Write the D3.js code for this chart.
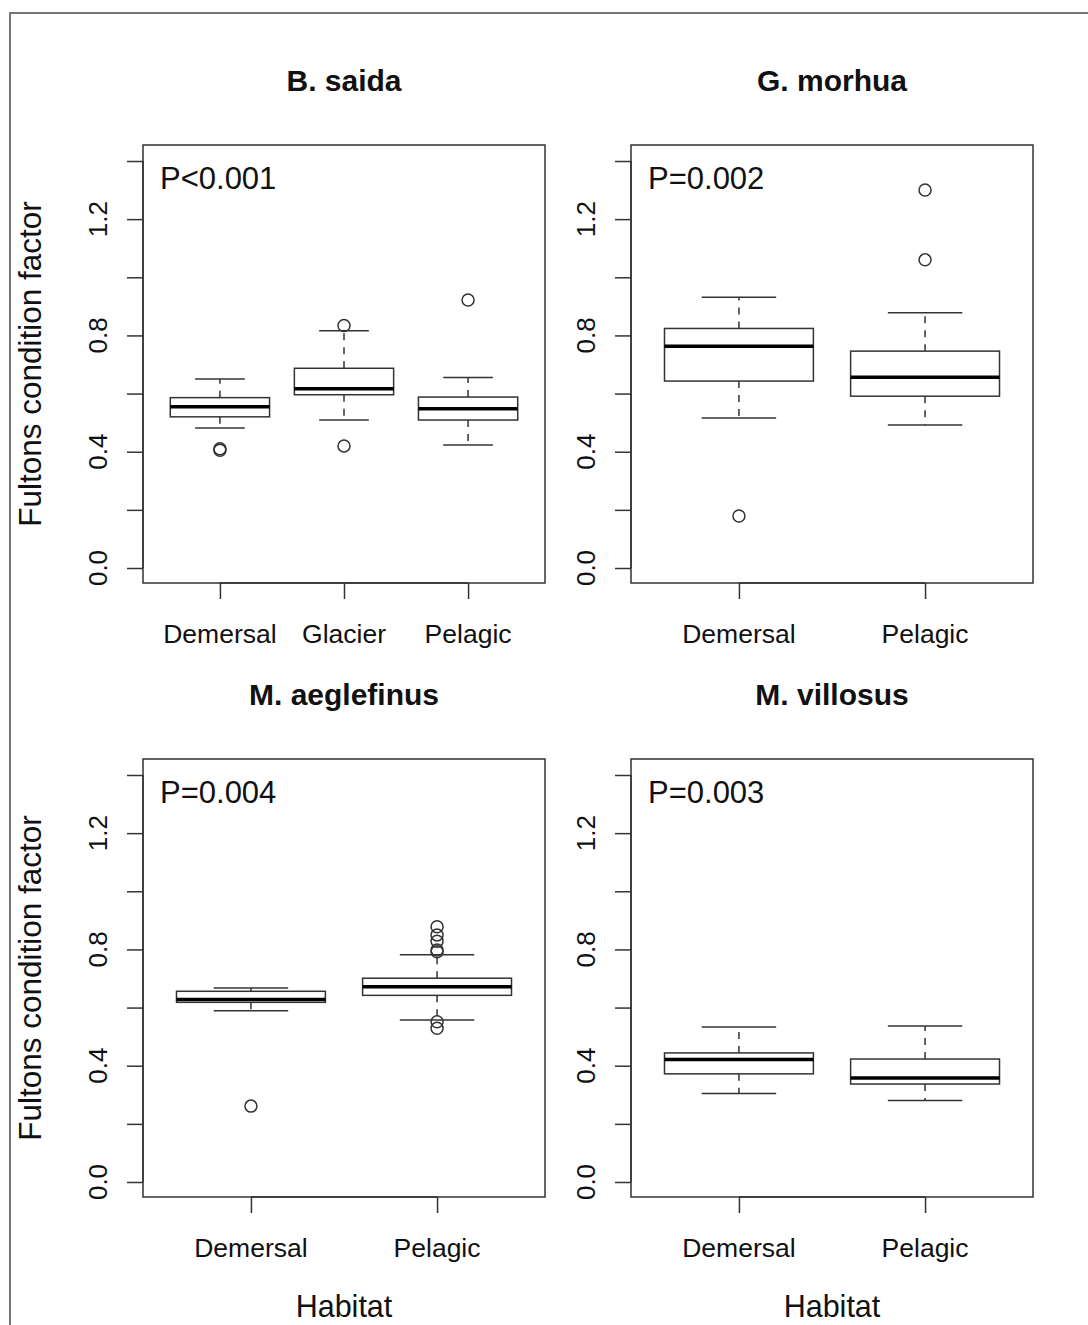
<!DOCTYPE html>
<html>
<head>
<meta charset="utf-8">
<script src="https://cdn.jsdelivr.net/npm/d3@7"></script>
<style>
  html, body { margin: 0; padding: 0; background: #fff; }
  svg { display: block; }
  text { font-family: "Liberation Sans", Arial, sans-serif; fill: #111; }
</style>
</head>
<body>
<script>
// ---------- DATA ----------
const speciesTitles = ["B. saida", "G. morhua", "M. aeglefinus", "M. villosus"];
const pValues = ["P<0.001", "P=0.002", "P=0.004", "P=0.003"];

const saidaCategories = ["Demersal", "Glacier", "Pelagic"];
const saidaLowWhisker = [0.482, 0.509, 0.423];
const saidaQ1 = [0.520, 0.596, 0.509];
const saidaMedian = [0.555, 0.617, 0.548];
const saidaQ3 = [0.586, 0.687, 0.588];
const saidaHighWhisker = [0.650, 0.816, 0.655];
const saidaOutliers = [[0.405, 0.410], [0.420, 0.834], [0.922]];

const morhuaCategories = ["Demersal", "Pelagic"];
const morhuaLowWhisker = [0.516, 0.492];
const morhuaQ1 = [0.643, 0.591];
const morhuaMedian = [0.763, 0.656];
const morhuaQ3 = [0.824, 0.746];
const morhuaHighWhisker = [0.931, 0.878];
const morhuaOutliers = [[0.179], [1.060, 1.300]];

const aeglefinusCategories = ["Demersal", "Pelagic"];
const aeglefinusLowWhisker = [0.589, 0.557];
const aeglefinusQ1 = [0.618, 0.642];
const aeglefinusMedian = [0.628, 0.672];
const aeglefinusQ3 = [0.656, 0.701];
const aeglefinusHighWhisker = [0.667, 0.782];
const aeglefinusOutliers = [[0.261], [0.878, 0.850, 0.828, 0.798, 0.792, 0.551, 0.529]];

const villosusCategories = ["Demersal", "Pelagic"];
const villosusLowWhisker = [0.304, 0.280];
const villosusQ1 = [0.372, 0.337];
const villosusMedian = [0.421, 0.358];
const villosusQ3 = [0.444, 0.423];
const villosusHighWhisker = [0.533, 0.537];
const villosusOutliers = [[], []];

const yTickValues = [0, 0.2, 0.4, 0.6, 0.8, 1.0, 1.2, 1.4];
const yTickLabelValues = [0, 0.4, 0.8, 1.2];
const xAxisTitle = "Habitat";
const yAxisTitle = "Fultons condition factor";

// ---------- BUILD ----------
function makeGroups(cats, lo, q1, med, q3, hi, out) {
  return cats.map((c, i) => ({ name: c, pos: i + 1, lo: lo[i], q1: q1[i], med: med[i], q3: q3[i], hi: hi[i], out: out[i] }));
}
const panels = [
  { title: speciesTitles[0], p: pValues[0], groups: makeGroups(saidaCategories, saidaLowWhisker, saidaQ1, saidaMedian, saidaQ3, saidaHighWhisker, saidaOutliers), col: 0, row: 0 },
  { title: speciesTitles[1], p: pValues[1], groups: makeGroups(morhuaCategories, morhuaLowWhisker, morhuaQ1, morhuaMedian, morhuaQ3, morhuaHighWhisker, morhuaOutliers), col: 1, row: 0 },
  { title: speciesTitles[2], p: pValues[2], groups: makeGroups(aeglefinusCategories, aeglefinusLowWhisker, aeglefinusQ1, aeglefinusMedian, aeglefinusQ3, aeglefinusHighWhisker, aeglefinusOutliers), col: 0, row: 1 },
  { title: speciesTitles[3], p: pValues[3], groups: makeGroups(villosusCategories, villosusLowWhisker, villosusQ1, villosusMedian, villosusQ3, villosusHighWhisker, villosusOutliers), col: 1, row: 1 }
];

const W = 1088, H = 1325;
const svg = d3.select("body").append("svg").attr("width", W).attr("height", H);

// outer frame (top + left visible)
svg.append("path").attr("d", `M10,${H} L10,13 L${W},13`)
  .attr("fill", "none").attr("stroke", "#777").attr("stroke-width", 2);

const lineCol = "#333";
const colX = [143, 631], rowY = [145, 759];
const boxW = 402, boxH = 438;

panels.forEach(pn => {
  const x0 = colX[pn.col], y0 = rowY[pn.row];
  const x1 = x0 + boxW, y1 = y0 + boxH;
  const n = pn.groups.length;
  const x = d3.scaleLinear().domain([0.5 - 0.04 * n, n + 0.5 + 0.04 * n]).range([x0, x1]);
  const y = d3.scaleLinear().domain([0, 1.4]).range([y0 + 423, y0 + 16]);
  const g = svg.append("g");

  // y axis
  const yAxis = d3.axisLeft(y).tickValues(yTickValues).tickSize(16).tickFormat("");
  const ya = g.append("g").attr("transform", `translate(${x0},0)`).call(yAxis);
  ya.select(".domain").attr("d", `M0,${y(0)}V${y(1.4)}`);
  ya.selectAll("line, path").attr("stroke", lineCol).attr("stroke-width", 1.5);
  g.selectAll(null).data(yTickLabelValues).enter().append("text")
    .attr("transform", d => `translate(${x0 - 36},${y(d)}) rotate(-90)`)
    .attr("text-anchor", "middle").attr("font-size", 26)
    .text(d => d3.format(".1f")(d));

  // x axis
  const xAxis = d3.axisBottom(x).tickValues(pn.groups.map(d => d.pos)).tickSize(16).tickFormat("");
  const xa = g.append("g").attr("transform", `translate(0,${y1})`).call(xAxis);
  xa.select(".domain").attr("d", `M${x(1)},0H${x(n)}`);
  xa.selectAll("line, path").attr("stroke", lineCol).attr("stroke-width", 1.5);
  g.selectAll(null).data(pn.groups).enter().append("text")
    .attr("x", d => x(d.pos)).attr("y", y1 + 60)
    .attr("text-anchor", "middle").attr("font-size", 26.5)
    .text(d => d.name);

  // plot frame
  g.append("rect").attr("x", x0).attr("y", y0).attr("width", boxW).attr("height", boxH)
    .attr("fill", "none").attr("stroke", lineCol).attr("stroke-width", 1.5);

  const bw = x(1.4) - x(1);   // half box width (0.4 units)
  const sw = x(1.2) - x(1);   // half staple width

  const bg = g.selectAll(null).data(pn.groups).enter().append("g");
  // whiskers (dashed)
  bg.append("line").attr("x1", d => x(d.pos)).attr("x2", d => x(d.pos))
    .attr("y1", d => y(d.q3)).attr("y2", d => y(d.hi))
    .attr("stroke", lineCol).attr("stroke-width", 1.5).attr("stroke-dasharray", "7,7");
  bg.append("line").attr("x1", d => x(d.pos)).attr("x2", d => x(d.pos))
    .attr("y1", d => y(d.q1)).attr("y2", d => y(d.lo))
    .attr("stroke", lineCol).attr("stroke-width", 1.5).attr("stroke-dasharray", "7,7");
  // staples
  bg.append("line").attr("x1", d => x(d.pos) - sw).attr("x2", d => x(d.pos) + sw)
    .attr("y1", d => y(d.hi)).attr("y2", d => y(d.hi))
    .attr("stroke", lineCol).attr("stroke-width", 1.5);
  bg.append("line").attr("x1", d => x(d.pos) - sw).attr("x2", d => x(d.pos) + sw)
    .attr("y1", d => y(d.lo)).attr("y2", d => y(d.lo))
    .attr("stroke", lineCol).attr("stroke-width", 1.5);
  // box
  bg.append("rect").attr("x", d => x(d.pos) - bw).attr("width", 2 * bw)
    .attr("y", d => y(d.q3)).attr("height", d => y(d.q1) - y(d.q3))
    .attr("fill", "#fff").attr("stroke", lineCol).attr("stroke-width", 1.5);
  // median
  bg.append("line").attr("x1", d => x(d.pos) - bw).attr("x2", d => x(d.pos) + bw)
    .attr("y1", d => y(d.med)).attr("y2", d => y(d.med))
    .attr("stroke", "#000").attr("stroke-width", 3.5);
  // outliers
  bg.selectAll("circle").data(d => d.out.map(v => ({ pos: d.pos, v }))).enter().append("circle")
    .attr("cx", d => x(d.pos)).attr("cy", d => y(d.v)).attr("r", 6)
    .attr("fill", "none").attr("stroke", lineCol).attr("stroke-width", 1.5);

  // titles & labels
  g.append("text").attr("x", (x0 + x1) / 2).attr("y", y0 - 54)
    .attr("text-anchor", "middle").attr("font-size", 30).attr("font-weight", "bold")
    .text(pn.title);
  g.append("text").attr("x", x0 + 17).attr("y", y0 + 44)
    .attr("font-size", 31).text(pn.p);

  if (pn.col === 0) {
    g.append("text").attr("transform", `translate(${x0 - 102},${(y0 + y1) / 2}) rotate(-90)`)
      .attr("text-anchor", "middle").attr("font-size", 31.5).text(yAxisTitle);
  }
  if (pn.row === 1) {
    g.append("text").attr("x", (x0 + x1) / 2).attr("y", y1 + 120)
      .attr("text-anchor", "middle").attr("font-size", 30.5).text(xAxisTitle);
  }
});
</script>
</body>
</html>
